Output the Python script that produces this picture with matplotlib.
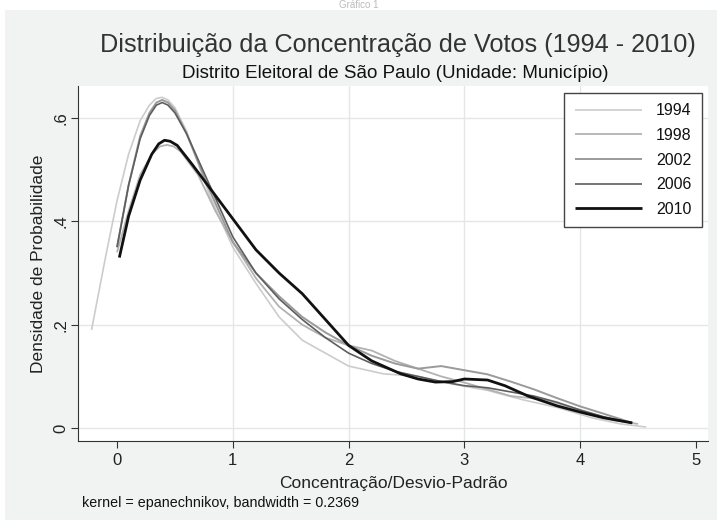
import matplotlib
matplotlib.use('Agg')
import matplotlib.pyplot as plt
from matplotlib.patches import Rectangle

# Densidades estimadas (kernel epanechnikov)
x_1994 = [-0.22, -0.1, 0.0, 0.1, 0.2, 0.28, 0.34, 0.39, 0.44, 0.5, 0.6, 0.8, 1.0, 1.2, 1.4, 1.6, 1.8, 2.0, 2.3, 2.6, 2.9, 3.2, 3.5, 3.8, 4.1, 4.35, 4.57]
y_1994 = [0.19, 0.33, 0.44, 0.53, 0.595, 0.625, 0.638, 0.64, 0.635, 0.62, 0.575, 0.45, 0.35, 0.28, 0.215, 0.17, 0.145, 0.12, 0.105, 0.10, 0.085, 0.073, 0.055, 0.04, 0.02, 0.008, 0.002]

x_1998 = [0.0, 0.1, 0.2, 0.3, 0.37, 0.43, 0.49, 0.55, 0.7, 0.85, 1.0, 1.2, 1.4, 1.6, 1.8, 2.0, 2.2, 2.4, 2.6, 2.8, 3.0, 3.2, 3.4, 3.7, 4.0, 4.3, 4.5]
y_1998 = [0.34, 0.42, 0.49, 0.53, 0.545, 0.548, 0.545, 0.535, 0.49, 0.42, 0.36, 0.29, 0.235, 0.2, 0.175, 0.16, 0.15, 0.13, 0.115, 0.10, 0.088, 0.075, 0.062, 0.055, 0.035, 0.015, 0.008]

x_2002 = [0.0, 0.1, 0.2, 0.28, 0.34, 0.39, 0.44, 0.5, 0.6, 0.8, 1.0, 1.2, 1.4, 1.6, 1.8, 2.0, 2.2, 2.4, 2.6, 2.8, 3.0, 3.2, 3.4, 3.6, 3.8, 4.0, 4.2, 4.45]
y_2002 = [0.35, 0.47, 0.565, 0.61, 0.63, 0.635, 0.63, 0.615, 0.57, 0.46, 0.36, 0.30, 0.255, 0.215, 0.185, 0.16, 0.14, 0.125, 0.115, 0.12, 0.112, 0.104, 0.09, 0.075, 0.058, 0.042, 0.028, 0.01]

x_2006 = [0.0, 0.1, 0.2, 0.28, 0.34, 0.39, 0.44, 0.5, 0.6, 0.8, 1.0, 1.2, 1.4, 1.6, 1.8, 2.0, 2.2, 2.4, 2.6, 2.8, 3.0, 3.2, 3.4, 3.6, 3.8, 4.0, 4.2, 4.45]
y_2006 = [0.35, 0.47, 0.56, 0.605, 0.625, 0.63, 0.625, 0.61, 0.57, 0.47, 0.37, 0.30, 0.25, 0.21, 0.175, 0.145, 0.125, 0.11, 0.1, 0.09, 0.082, 0.078, 0.07, 0.062, 0.05, 0.035, 0.022, 0.01]

x_2010 = [0.02, 0.1, 0.2, 0.3, 0.36, 0.41, 0.46, 0.52, 0.65, 0.8, 1.0, 1.2, 1.4, 1.6, 1.8, 2.0, 2.2, 2.45, 2.6, 2.75, 2.9, 3.0, 3.2, 3.35, 3.55, 3.8, 4.0, 4.2, 4.45]
y_2010 = [0.33, 0.41, 0.48, 0.53, 0.55, 0.557, 0.555, 0.547, 0.51, 0.465, 0.405, 0.345, 0.3, 0.26, 0.21, 0.16, 0.13, 0.105, 0.095, 0.089, 0.09, 0.095, 0.093, 0.082, 0.062, 0.043, 0.031, 0.02, 0.01]

anos = ['1994', '1998', '2002', '2006', '2010']
cores = ['#cccccc', '#b2b2b2', '#9a9a9a', '#5e5e5e', '#111111']
larguras = [1.2, 1.3, 1.4, 1.2, 2.0]
series_x = [x_1994, x_1998, x_2002, x_2006, x_2010]
series_y = [y_1994, y_1998, y_2002, y_2006, y_2010]

plt.rcParams['font.family'] = ['Liberation Sans', 'DejaVu Sans']

fig = plt.figure(figsize=(7.17, 5.26), dpi=100)
fig.patch.set_facecolor('white')
# fundo cinza do gráfico (estilo Stata), atrás dos eixos
fundo = Rectangle((5 / 717, 6 / 526), 712 / 717, 510 / 526, transform=fig.transFigure,
                  facecolor='#f1f2f2', edgecolor='none', zorder=-10)
fig.add_artist(fundo)
fig.text(0.5, 1.0, 'Gráfico 1', ha='center', va='top', fontsize=7, color='#bbbbbb')

ax = fig.add_axes([78 / 717, 1 - 441 / 526, 630 / 717, 355 / 526])
ax.set_facecolor('white')

for xs, ys, ano, cor, lw in zip(series_x, series_y, anos, cores, larguras):
    ax.plot(xs, ys, color=cor, linewidth=lw, label=ano, solid_capstyle='butt', solid_joinstyle='round')

ax.set_xlim(-0.337, 5.104)
ax.set_ylim(-0.025, 0.662)
ax.set_xticks([0, 1, 2, 3, 4, 5])
ax.set_yticks([0, 0.2, 0.4, 0.6])
ax.set_yticklabels(['0', '.2', '.4', '.6'], rotation=90, va='center')
for g in [1, 2, 3, 4]:
    ax.axvline(g, color='#e6e6e6', linewidth=1.0, zorder=0)
for g in [0, 0.2, 0.4, 0.6]:
    ax.axhline(g, color='#e6e6e6', linewidth=1.0, zorder=0)

ax.spines['top'].set_visible(False)
ax.spines['right'].set_visible(False)
ax.spines['left'].set_color('#333333')
ax.spines['bottom'].set_color('#333333')
ax.tick_params(axis='both', direction='out', length=5, color='#333333', labelsize=12, labelcolor='#222222')
ax.tick_params(axis='y', pad=2)

ax.set_xlabel('Concentração/Desvio-Padrão', fontsize=12.5, color='#222222', labelpad=6)
ax.set_ylabel('Densidade de Probabilidade', fontsize=12.5, color='#222222', labelpad=5)

fig.text(398 / 717, 1 - 45 / 526, 'Distribuição da Concentração de Votos (1994 - 2010)',
         ha='center', va='center', fontsize=18.2, color='#333333')
fig.text(395 / 717, 1 - 73 / 526, 'Distrito Eleitoral de São Paulo (Unidade: Município)',
         ha='center', va='center', fontsize=13.5, color='#111111')
fig.text(82 / 717, 1 - 503 / 526, 'kernel = epanechnikov, bandwidth = 0.2369',
         ha='left', va='center', fontsize=10.3, color='#111111')

leg = ax.legend(loc='upper right', bbox_to_anchor=(702 / 717, 1 - 93 / 526), bbox_transform=fig.transFigure,
                frameon=True, fancybox=False, fontsize=11.5, handlelength=4.2, labelspacing=0.6,
                borderpad=0.65, handletextpad=0.9, borderaxespad=0)
leg.get_frame().set_edgecolor('#444444')
leg.get_frame().set_linewidth(1.0)
leg.get_frame().set_alpha(1.0)
for t in leg.get_texts():
    t.set_color('#111111')

plt.savefig('out.png', dpi=100, facecolor=fig.get_facecolor())
plt.close()
